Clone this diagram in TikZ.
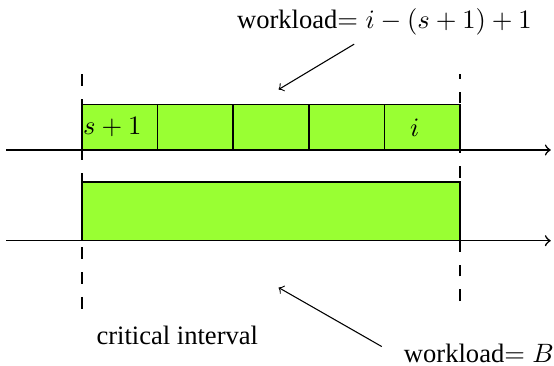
\documentclass[tikz,border=0pt]{standalone}
\usepackage[no-math]{fontspec}
\setmainfont{Liberation Serif}
\definecolor{loadgreen}{RGB}{153,255,51}
\tikzset{
  slot/.style={draw, fill=loadgreen, semithick},
  timeline/.style={->, semithick},
  border/.style={semithick, dash pattern=on 4.5pt off 4.8pt},
}

\begin{document}
\begin{tikzpicture}
  \useasboundingbox (-1.085,-2.857) rectangle (6.243,1.984);

  % Workload blocks
  \foreach \x in {0,...,4}
    \draw[slot] (\x,0) rectangle (\x+1,0.6);
  \draw[slot] (0,-1.2) rectangle (5,-0.42);

  % Time axes
  \draw[timeline] (-1,0) -- (6.2,0);
  \draw[timeline] (-1,-1.2) -- (6.2,-1.2);

  % Borders of the critical interval
  \draw[border] (0,1) -- (0,-2.2);
  \draw[border] (5,-2.0) -- (5,1);

  % Labels
  \node (first) at (0.4,0.3) {$s+1$};
  \node (last) at (4.4,0.3) {$i$};
  \node (toplabel) at (4,1.7) {workload$= i-(s+1)+1$};
  \node (crit) at (1.26,-2.45) {critical interval};
  \node (botlabel) at (5.25,-2.69) {workload$= B$};

  % Arrows
  \coordinate (toptip) at (2.6,0.8);
  \coordinate (bottip) at (2.6,-1.82);
  \draw[->] ([xshift=-0.4cm]toplabel.south) -- (toptip);
  \draw[->] ([shift={(-0.17,0.09)}]botlabel.west) -- (bottip);
\end{tikzpicture}
\end{document}
